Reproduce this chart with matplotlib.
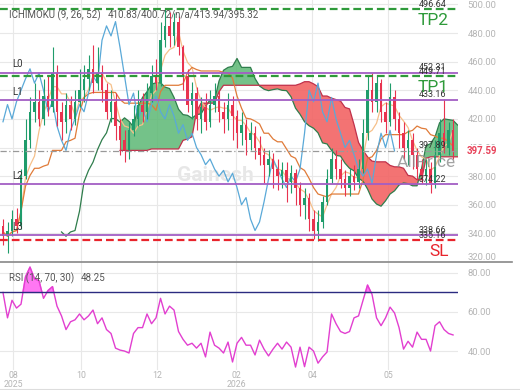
import matplotlib.pyplot as plt
import numpy as np
import pandas as pd
from matplotlib.lines import Line2D
from matplotlib.transforms import blended_transform_factory

plt.rcParams['font.family'] = ['Roboto', 'DejaVu Sans']

# candles (one bar ~ two sessions), open = previous close
first_open = 345
closes = [338, 342, 350, 345, 380, 405, 425, 432, 420, 436,
          428, 452, 425, 418, 430, 420, 432, 440, 448, 455,
          445, 452, 440, 425, 432, 415, 405, 398, 412, 420,
          430, 425, 438, 450, 445, 475, 485, 478, 488, 470,
          450, 430, 438, 420, 428, 418, 430, 436, 425, 420,
          430, 422, 410, 416, 405, 410, 400, 395, 388, 392,
          385, 380, 384, 376, 382, 372, 360, 365, 350, 342,
          348, 362, 378, 392, 385, 378, 372, 380, 376, 385,
          410, 440, 432, 445, 425, 418, 435, 420, 410, 400,
          405, 395, 385, 380, 385, 375, 395, 410, 400, 412,
          397.59]
highs = [350, 348, 356, 358, 385, 420, 435, 445, 440, 448,
         450, 470, 458, 432, 438, 436, 440, 455, 458, 465,
         472, 470, 458, 445, 440, 438, 420, 412, 418, 430,
         440, 438, 445, 458, 462, 488, 497, 495, 494, 492,
         472, 455, 446, 442, 435, 438, 440, 445, 440, 432,
         438, 436, 426, 425, 420, 418, 415, 408, 400, 398,
         396, 392, 390, 390, 388, 385, 376, 372, 368, 356,
         356, 366, 385, 400, 398, 392, 384, 386, 388, 392,
         420, 450, 452, 450, 448, 432, 445, 440, 425, 418,
         412, 410, 400, 392, 392, 390, 405, 420, 434, 418,
         420]
lows = [332, 326, 338, 340, 343, 378, 400, 418, 415, 416,
        422, 425, 415, 405, 410, 412, 416, 428, 432, 440,
        438, 440, 432, 420, 418, 405, 395, 390, 392, 408,
        415, 418, 420, 432, 440, 443, 470, 470, 472, 465,
        440, 425, 420, 412, 410, 412, 414, 425, 418, 410,
        412, 405, 400, 402, 395, 398, 392, 388, 375, 380,
        372, 370, 372, 362, 368, 360, 352, 350, 342, 336,
        335, 344, 360, 375, 378, 372, 366, 366, 370, 372,
        382, 405, 425, 425, 418, 410, 415, 412, 400, 392,
        388, 385, 378, 375, 374, 368, 372, 390, 396, 395,
        392]
rsi = [70, 57, 66, 62, 64, 78, 83, 77, 76, 67,
       71, 73, 63, 58, 51, 55, 56, 59, 56, 58,
       61, 54, 57, 51, 49, 41.5, 40.5, 40, 39, 49,
       52, 52, 59, 54, 57, 67, 59, 63, 61, 50,
       46, 43, 44, 41.5, 44, 37, 49.7, 43, 41.5, 39,
       44.6, 34.4, 44, 47, 43, 43, 38, 45.6, 41, 37.5,
       41, 44, 41, 44.6, 42, 31.8, 42, 32, 42, 40,
       33.8, 37, 39.5, 59, 54, 50, 49, 50, 57, 58,
       66, 73.8, 69, 57, 53, 57, 62.5, 59.5, 52, 41,
       45, 42, 49.7, 46, 46, 40, 53, 55, 51, 49,
       48.25]

tick_pos = [2.2, 17.3, 34.2, 51.8, 68.7, 85.6]
tick_labels = ['08\n2025', '10', '12', '02\n2026', '04', '05']

levels = {'L0': 452.31, 'L1': 433.16, 'L2': 374.22, 'L3': 338.66}
tp1, tp2, sl = 449.71, 496.64, 335.16
all_price = 397.89

# ichimoku settings scaled to the bar size used here
p_conv, p_base, p_span, shift = 4, 13, 26, 13

df = pd.DataFrame({'close': closes, 'high': highs, 'low': lows})
df['open'] = [first_open] + closes[:-1]
x = np.arange(len(df))
hh = lambda n, m=1: df['high'].rolling(n, min_periods=m).max()
ll = lambda n, m=1: df['low'].rolling(n, min_periods=m).min()
tenkan = (hh(p_conv) + ll(p_conv)) / 2
kijun = (hh(p_base) + ll(p_base)) / 2
span_a = ((tenkan + kijun) / 2).values
span_b = ((hh(p_span, 14) + ll(p_span, 14)) / 2).values
xs = x + shift

fig = plt.figure(figsize=(5.2, 3.9), dpi=100)
ax = fig.add_axes([0, 1 - 262 / 390, 458 / 520, 262 / 390])
ax2 = fig.add_axes([0, 1 - 370 / 390, 458 / 520, 108 / 390], sharex=ax)

green, red = '#1f9c6b', '#e8334f'

# cloud
ok = ~np.isnan(span_b)
ax.fill_between(xs, span_a, span_b, where=ok & (span_a >= span_b), interpolate=True,
                color='#5cb874', alpha=0.85, lw=0, zorder=1)
ax.fill_between(xs, span_a, span_b, where=ok & (span_a < span_b), interpolate=True,
                color='#f26464', alpha=0.9, lw=0, zorder=1)
ax.plot(xs, span_a, color='#2f7d4c', lw=0.9, zorder=2)
ax.plot(xs, span_b, color='#c0304a', lw=0.9, zorder=2)
ax.plot(x, tenkan, color='#f6c08a', lw=0.9, zorder=2)
ax.plot(x, kijun, color='#e07b39', lw=0.9, zorder=2)
ax.plot(x[shift:] - shift, df['close'][shift:], color='#5aa9d8', lw=0.9, zorder=2)

# candles
up = df['close'] >= df['open']
cols = np.where(up, green, red)
ax.vlines(x, df['low'], df['high'], colors=cols, lw=0.8, zorder=3)
ax.bar(x, (df['close'] - df['open']).abs().clip(lower=0.8),
       bottom=df[['open', 'close']].min(axis=1), width=0.55, color=cols, zorder=3)

# watermark
ax.text(0.47, 0.33, 'Gainesh', transform=ax.transAxes, fontsize=15, color='#d8d8d8',
        alpha=0.6, ha='center', va='center', fontweight='bold', zorder=0)

# levels
for name, v in levels.items():
    ax.axhline(v, color='#a35ec4', lw=1.3, zorder=4)
    ax.text(2, v + 2.5, name, fontsize=7, color='#333333', va='bottom', zorder=6)
    ax.text(98.5, v + 0.5, f'{v:.2f}', fontsize=6.5, color='#333333', ha='right',
            va='bottom', zorder=6)
for v, name, c in [(tp2, 'TP2', '#2e9a3a'), (tp1, 'TP1', '#2e9a3a'), (sl, 'SL', '#e8242c')]:
    ax.axhline(v, color=c, lw=1.6, dashes=(3.5, 1.8), zorder=4)
    ax.text(98.5, v + 0.5, f'{v:.2f}', fontsize=6.5, color='#333333', ha='right',
            va='bottom', zorder=6, clip_on=True)
    ax.text(99, v - 2.5, name, fontsize=12.5, color=c, ha='right', va='top', zorder=6)
ax.axhline(all_price, color='#999999', lw=0.9, dashes=(5, 2, 1, 2), zorder=4)
ax.text(98.5, all_price + 0.5, f'{all_price:.2f}', fontsize=6.5, color='#333333',
        ha='right', va='bottom', zorder=6)
ax.text(87.5, all_price - 3, 'AllPrice', fontsize=12.5, color='#8c8c8c', alpha=0.8,
        va='top', zorder=6)

ax.text(0.02, 0.965, 'ICHIMOKU (9, 26, 52)', transform=ax.transAxes, fontsize=7,
        color='#555555', va='top', zorder=7)
ax.text(0.235, 0.965, '410.83/400.72/n/a/413.94/395.32', transform=ax.transAxes,
        fontsize=7, color='#555555', va='top', zorder=7)

ax.set_xlim(-0.667, 101.1)
ax.set_ylim(320.5, 503.1)
ax.set_yticks(np.arange(320, 501, 20))
ax.yaxis.set_major_formatter(lambda v, p: f'{v:.2f}')
trans = blended_transform_factory(ax.transAxes, ax.transData)
ax.text(1.02, closes[-1], f'{closes[-1]:.2f}', transform=trans, fontsize=7,
        color='#e8435a', va='center', fontweight='bold',
        bbox=dict(facecolor='white', edgecolor='none', pad=0.5))

# RSI
rsi = np.array(rsi)
ax2.plot(x, rsi, color='#e23fd0', lw=1)
ax2.fill_between(x, rsi, 70, where=rsi > 70, interpolate=True, color='#ff55f0', alpha=0.8)
ax2.axhline(70, color='#2b2b80', lw=1)
ax2.set_ylim(30.3, 85.6)
ax2.set_yticks([40, 60, 80])
ax2.yaxis.set_major_formatter(lambda v, p: f'{v:.2f}')
ax2.text(0.02, 0.9, 'RSI (14, 70, 30)', transform=ax2.transAxes, fontsize=7,
         color='#555555', va='top')
ax2.text(0.177, 0.9, f'{rsi[-1]:.2f}', transform=ax2.transAxes, fontsize=7,
         color='#555555', va='top')
ax2.set_xticks(tick_pos)
ax2.set_xticklabels(tick_labels, linespacing=0.9)

for a in (ax, ax2):
    a.yaxis.tick_right()
    a.tick_params(length=0, labelsize=6.8, labelcolor='#b5b5b5', pad=7)
    a.grid(color='#e8e8e8', lw=0.8)
    a.set_axisbelow(True)
    for s in a.spines.values():
        s.set_visible(False)
ax.tick_params(labelbottom=False)
ax2.tick_params(axis='x', pad=1, labelsize=6.3)
ax.get_yticklabels()[0].set_va('bottom')

fig.add_artist(Line2D([0, 0.985], [1 - 262 / 390] * 2, color='#888888', lw=1.2))
fig.add_artist(Line2D([0.0, 1.0], [0.003, 0.003], color='#dddddd', lw=0.8))

fig.savefig('out.png', dpi=100)
